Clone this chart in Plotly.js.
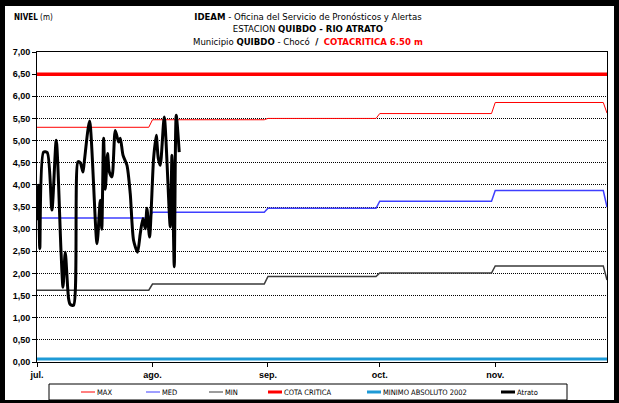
<!DOCTYPE html>
<html>
<head>
<meta charset="utf-8">
<script src="https://cdn.plot.ly/plotly-3.0.1.min.js"></script>
<style>
  html, body { margin: 0; padding: 0; background: #fff; }
  #wrap { position: relative; width: 619px; height: 403px; }
  #chart { position: absolute; left: 0; top: 0; width: 619px; height: 403px; }
  #frame { position: absolute; left: 0; top: 0; width: 619px; height: 403px; box-sizing: border-box;
           border-style: solid; border-color: #000; border-width: 6px 5px 3px 5px; pointer-events: none; }
</style>
</head>
<body>
<div id="wrap"><div id="chart"></div><div id="frame"></div></div>
<script>
// ---- Data ----
const meses = ['2011-07-01', '2011-08-01', '2011-09-01', '2011-10-01', '2011-11-01', '2011-12-01'];
const finMes = ['2011-07-31', '2011-08-31', '2011-09-30', '2011-10-31', '2011-11-30'];
const etiquetasMes = ['jul.', 'ago.', 'sep.', 'oct.', 'nov.'];

const nivelTicks = [0, 0.5, 1, 1.5, 2, 2.5, 3, 3.5, 4, 4.5, 5, 5.5, 6, 6.5, 7];
const nivelEtiquetas = ['0,00', '0,50', '1,00', '1,50', '2,00', '2,50', '3,00', '3,50', '4,00', '4,50', '5,00', '5,50', '6,00', '6,50', '7,00'];

const nivelMax = [5.30, 5.47, 5.50, 5.61, 5.86, 5.62];
const nivelMed = [3.25, 3.38, 3.47, 3.63, 3.87, 3.50];
const nivelMin = [1.62, 1.76, 1.93, 2.01, 2.17, 1.85];

const cotaCritica = 6.50;
const minimoAbsoluto2002 = 0.07;

const atratoFechas = [
  '2011-07-01 02:00', '2011-07-01 10:00', '2011-07-01 18:00', '2011-07-02 18:00', '2011-07-03 18:00',
  '2011-07-05 00:00', '2011-07-06 04:00', '2011-07-07 10:30', '2011-07-07 23:30', '2011-07-08 14:00',
  '2011-07-09 11:30', '2011-07-09 22:00', '2011-07-10 19:40', '2011-07-12 00:00', '2011-07-12 15:00',
  '2011-07-13 08:00', '2011-07-13 16:30', '2011-07-15 02:40', '2011-07-17 02:30', '2011-07-17 23:30',
  '2011-07-18 09:20', '2011-07-18 21:00', '2011-07-19 08:00', '2011-07-19 22:30', '2011-07-20 09:40',
  '2011-07-21 03:00', '2011-07-22 00:15', '2011-07-22 21:30', '2011-07-23 08:30', '2011-07-24 02:00',
  '2011-07-25 03:40', '2011-07-26 00:45', '2011-07-26 22:00', '2011-07-27 23:45', '2011-07-28 17:15',
  '2011-07-29 10:35', '2011-07-30 01:30', '2011-07-30 12:20', '2011-07-31 05:00', '2011-08-01 07:00',
  '2011-08-02 00:15', '2011-08-02 13:10', '2011-08-03 02:00', '2011-08-04 03:50', '2011-08-05 18:30',
  '2011-08-06 05:20', '2011-08-06 20:10', '2011-08-07 09:00', '2011-08-08 04:20'
];
const atratoNivel = [
  3.20, 3.99, 2.56, 4.74, 4.73,
  3.43, 5.01, 2.52, 1.69, 2.48,
  1.43, 1.30, 1.28, 4.52, 4.50,
  4.29, 4.52, 5.44, 2.67, 3.65,
  3.00, 5.05, 3.90, 4.71, 4.30,
  4.18, 5.23, 4.97, 5.05, 4.67,
  4.44, 3.80, 2.75, 2.48, 2.90,
  3.24, 3.01, 3.47, 2.82, 4.59,
  5.12, 4.60, 4.44, 5.53, 3.05,
  4.67, 2.15, 5.57, 4.74
];

// ---- Build monthly step series ----
function escalonado(vals) {
  const x = [], y = [];
  for (let i = 0; i < meses.length - 1; i++) {
    x.push(meses[i]); y.push(vals[i]);
    x.push(finMes[i]); y.push(vals[i]);
  }
  x.push(meses[meses.length - 1]); y.push(vals[vals.length - 1]);
  return { x, y };
}
const sMax = escalonado(nivelMax), sMed = escalonado(nivelMed), sMin = escalonado(nivelMin);
const extremos = [meses[0], meses[meses.length - 1]];

const narrow = '"Liberation Sans Narrow", "DejaVu Sans Condensed", Arial, sans-serif';
const arial = '"Liberation Sans", Arial, sans-serif';

const traces = [
  { x: sMax.x, y: sMax.y, name: 'MAX', mode: 'lines', line: { color: '#ff0000', width: 1 } },
  { x: sMed.x, y: sMed.y, name: 'MED', mode: 'lines', line: { color: '#3f3fff', width: 1.5 } },
  { x: sMin.x, y: sMin.y, name: 'MIN', mode: 'lines', line: { color: '#3a3a3a', width: 1.5 } },
  { x: extremos, y: [cotaCritica, cotaCritica], name: 'COTA CRITICA', mode: 'lines', line: { color: '#ff0000', width: 3.5 } },
  { x: extremos, y: [minimoAbsoluto2002, minimoAbsoluto2002], name: 'MINIMO ABSOLUTO 2002', mode: 'lines', line: { color: '#1e9ad6', width: 3 } },
  { x: atratoFechas, y: atratoNivel, name: 'Atrato', mode: 'lines', line: { color: '#000000', width: 3, shape: 'spline', smoothing: 0.7 } }
];

// ---- Layout geometry (pixels) ----
const W = 619, H = 403;
const M = { l: 37, r: 12, t: 52, b: 41 };
const PW = W - M.l - M.r, PH = H - M.t - M.b;
const px2x = p => (p - M.l) / PW;
const px2y = p => (H - M.b - p) / PH;

// custom legend (Excel-style compact box)
const legendLineStart = [81, 146, 209, 268, 367, 501];
const legendLineLen = 14;
const legendY = 392;
const legendLineWidth = [1, 1, 1, 3, 3, 3];
const shapes = [
  { type: 'rect', xref: 'paper', yref: 'paper', x0: px2x(49), x1: px2x(567), y0: px2y(400), y1: px2y(384),
    line: { color: '#000', width: 1 }, fillcolor: 'rgba(0,0,0,0)' }
];
const annotations = [
  { text: '<b>NIVEL</b> (m)', xref: 'paper', yref: 'paper', x: px2x(12), y: px2y(17),
    xanchor: 'left', yanchor: 'middle', showarrow: false,
    font: { family: narrow, size: 8, color: '#000' } },
  { text: '<b>IDEAM</b> - Oficina del Servicio de Pronósticos y Alertas<br>ESTACION <b>QUIBDO - RIO ATRATO</b><br>Municipio <b>QUIBDO</b> - Chocó  <b>/</b>  <span style="color:#ff0000"><b>COTACRITICA 6.50 m</b></span>',
    xref: 'paper', yref: 'paper', x: px2x(308), y: px2y(9), xanchor: 'center', yanchor: 'top',
    showarrow: false, align: 'center',
    font: { family: narrow, size: 9.5, color: '#000' } }
];
traces.forEach((t, i) => {
  const x0 = legendLineStart[i];
  shapes.push({ type: 'line', xref: 'paper', yref: 'paper',
    x0: px2x(x0), x1: px2x(x0 + legendLineLen), y0: px2y(legendY), y1: px2y(legendY),
    line: { color: t.line.color, width: legendLineWidth[i] } });
  annotations.push({ text: t.name, xref: 'paper', yref: 'paper',
    x: px2x(x0 + legendLineLen), y: px2y(legendY), xanchor: 'left', yanchor: 'middle',
    showarrow: false, font: { family: narrow, size: 7.5, color: '#000' } });
});

const layout = {
  width: W, height: H,
  margin: { l: M.l, r: M.r, t: M.t, b: M.b, pad: 0 },
  paper_bgcolor: '#ffffff', plot_bgcolor: '#ffffff',
  showlegend: false,
  xaxis: {
    type: 'date',
    range: [meses[0], meses[meses.length - 1]],
    tickvals: meses.slice(0, etiquetasMes.length),
    ticktext: etiquetasMes.map(s => '<b>' + s + '</b>'),
    tickfont: { family: arial, size: 9, color: '#000' },
    ticks: 'outside', ticklen: 4, tickcolor: '#000',
    showgrid: false, zeroline: false,
    showline: true, linecolor: '#000', linewidth: 1, mirror: true
  },
  yaxis: {
    range: [0, 7],
    tickvals: nivelTicks,
    ticktext: nivelEtiquetas.map(s => '<b>' + s + '</b>'),
    tickfont: { family: arial, size: 9, color: '#000' },
    ticks: 'outside', ticklen: 4, tickcolor: '#000',
    showgrid: true, gridcolor: '#000', gridwidth: 1, griddash: '1px,1px',
    zeroline: false,
    showline: true, linecolor: '#000', linewidth: 1, mirror: true
  },
  shapes: shapes,
  annotations: annotations
};

Plotly.newPlot('chart', traces, layout, { staticPlot: true, displayModeBar: false });
</script>
</body>
</html>
